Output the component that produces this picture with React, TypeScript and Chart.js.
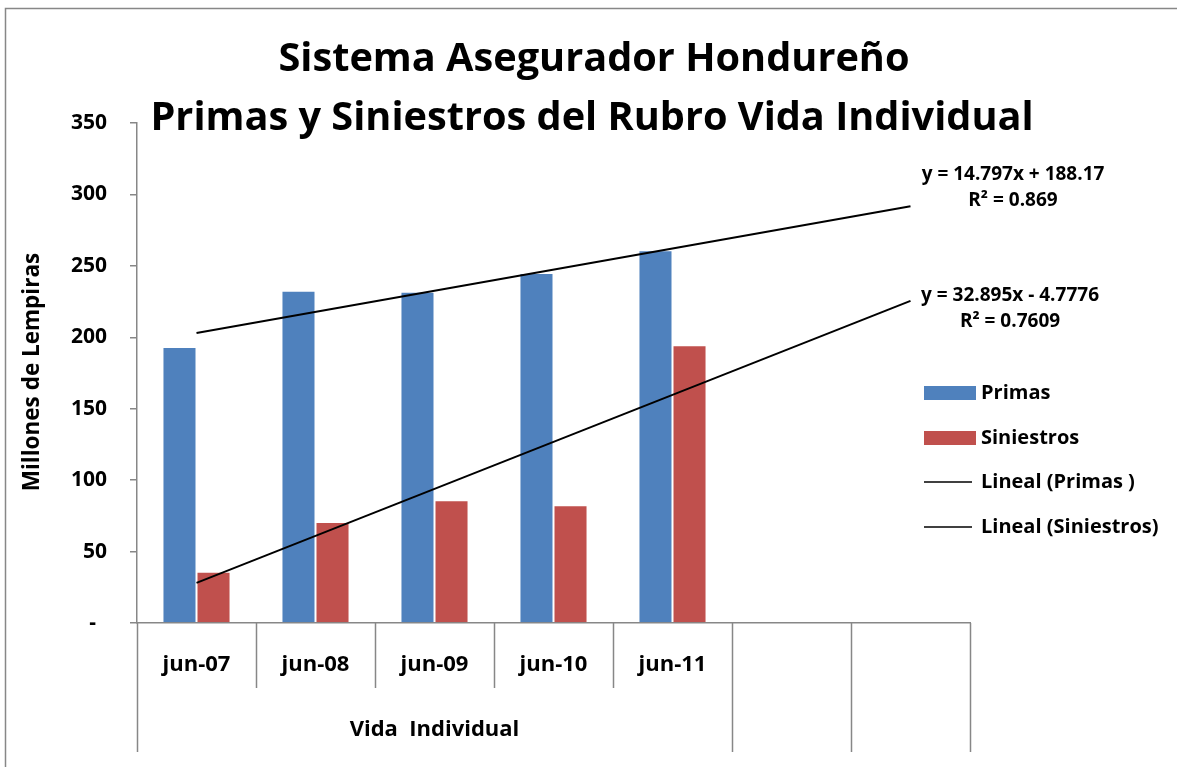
import React, { useEffect, useRef } from 'react';
import { Chart, registerables } from 'chart.js';

Chart.register(...registerables);

const categories = ['jun-07', 'jun-08', 'jun-09', 'jun-10', 'jun-11', '', ''];
const groupLabel = 'Vida  Individual';
const groupSpan = 5;
const primas = [193.2, 232.5, 231.8, 245.0, 261.0];
const siniestros = [35.8, 70.7, 86.0, 82.5, 194.5];
const trendPrimas = [202.97, null, null, null, null, null, 291.75];
const trendSiniestros = [28.12, null, null, null, null, null, 225.49];
const trendPrimasText = ['y = 14.797x + 188.17', 'R² = 0.869'];
const trendSiniestrosText = ['y = 32.895x - 4.7776', 'R² = 0.7609'];
const titleLines = ['Sistema Asegurador Hondureño', 'Primas y Siniestros del Rubro Vida Individual'];
const yTitle = 'Millones de Lempiras';
const legendItems = ['Primas', 'Siniestros', 'Lineal (Primas )', 'Lineal (Siniestros)'];
const yMin = 0;
const yMax = 350;
const yStep = 50;

const FONT = '"Open Sans", Lato, sans-serif';
const BLUE = '#4F81BD';
const RED = '#C0504D';
const GRAY = '#878787';

const overlay = {
  id: 'overlay',
  afterDraw(chart: any) {
    const ctx = chart.ctx as CanvasRenderingContext2D;
    const area = chart.chartArea;
    const x = chart.scales.x;
    ctx.save();
    // outer border
    ctx.strokeStyle = GRAY;
    ctx.lineWidth = 1.5;
    ctx.beginPath();
    ctx.moveTo(5.5, 767);
    ctx.lineTo(5.5, 8.5);
    ctx.lineTo(1177, 8.5);
    ctx.stroke();

    // title
    ctx.fillStyle = '#000';
    ctx.textAlign = 'center';
    ctx.textBaseline = 'middle';
    ctx.font = `bold 39.7px ${FONT}`;
    ctx.fillText(titleLines[0], 594, 60);
    ctx.fillText(titleLines[1], 592, 119);

    // y title
    ctx.save();
    ctx.translate(33, 372);
    ctx.rotate(-Math.PI / 2);
    ctx.font = `bold 22.5px ${FONT}`;
    ctx.fillText(yTitle, 0, 0);
    ctx.restore();

    // category axis multi-level
    const n = categories.length;
    const cw = (area.right - area.left) / n;
    ctx.strokeStyle = GRAY;
    ctx.lineWidth = 1.5;
    for (let i = 0; i <= n; i++) {
      const bx = Math.round(area.left + i * cw) + 0.5;
      const inner = i > 0 && i < groupSpan;
      ctx.beginPath();
      ctx.moveTo(bx, area.bottom);
      ctx.lineTo(bx, inner ? 688 : 752);
      ctx.stroke();
    }
    ctx.font = `bold 22px ${FONT}`;
    categories.forEach((c, i) => {
      if (!c) return;
      ctx.fillText(c, x.getPixelForValue(i), 665);
    });
    ctx.fillText(groupLabel, area.left + (groupSpan * cw) / 2, 730);

    // legend
    const lx = 924;
    const ys = [393, 438, 482, 527];
    ctx.textAlign = 'left';
    ctx.font = `bold 20px ${FONT}`;
    legendItems.forEach((t, i) => {
      if (i < 2) {
        ctx.fillStyle = i === 0 ? BLUE : RED;
        ctx.fillRect(lx, ys[i] - 7, 52, 14);
      } else {
        ctx.strokeStyle = '#000';
        ctx.lineWidth = 1.5;
        ctx.beginPath();
        ctx.moveTo(lx, ys[i]);
        ctx.lineTo(lx + 48, ys[i]);
        ctx.stroke();
      }
      ctx.fillStyle = '#000';
      ctx.fillText(t, 981, ys[i]);
    });

    // trend equations
    ctx.textAlign = 'center';
    ctx.font = `bold 19px ${FONT}`;
    ctx.fillText(trendPrimasText[0], 1013, 175);
    ctx.fillText(trendPrimasText[1], 1013, 201);
    ctx.fillText(trendSiniestrosText[0], 1010, 296);
    ctx.fillText(trendSiniestrosText[1], 1010, 322);
    ctx.restore();
  },
};

export default function App() {
  const ref = useRef<HTMLCanvasElement>(null);
  useEffect(() => {
    if (!ref.current) return;
    const chart = new Chart(ref.current, {
      type: 'bar',
      data: {
        labels: categories,
        datasets: [
          {
            type: 'bar',
            label: 'Primas',
            data: primas,
            backgroundColor: BLUE,
            borderColor: 'rgba(255,255,255,0.45)',
            borderWidth: 1,
            categoryPercentage: 0.572,
            barPercentage: 1,
            order: 2,
          },
          {
            type: 'bar',
            label: 'Siniestros',
            data: siniestros,
            backgroundColor: RED,
            borderColor: 'rgba(255,255,255,0.45)',
            borderWidth: 1,
            categoryPercentage: 0.572,
            barPercentage: 1,
            order: 2,
          },
          {
            type: 'line',
            label: 'Lineal (Primas )',
            data: trendPrimas,
            borderColor: '#000',
            borderWidth: 2,
            pointRadius: 0,
            spanGaps: true,
            fill: false,
            order: 1,
          } as any,
          {
            type: 'line',
            label: 'Lineal (Siniestros)',
            data: trendSiniestros,
            borderColor: '#000',
            borderWidth: 2,
            pointRadius: 0,
            spanGaps: true,
            fill: false,
            order: 1,
          } as any,
        ],
      },
      options: {
        responsive: false,
        animation: false,
        layout: { padding: { left: 0, top: 123, right: 207, bottom: 0 } },
        plugins: {
          legend: { display: false },
          title: { display: false },
          tooltip: { enabled: false },
        },
        scales: {
          x: {
            grid: { display: false },
            border: { display: true, color: GRAY, width: 1.5 },
            ticks: { display: false },
            afterFit(scale: any) {
              scale.height = 144;
            },
          },
          y: {
            min: yMin,
            max: yMax,
            grid: { drawOnChartArea: false, drawTicks: true, tickLength: 7, color: GRAY, lineWidth: 1.5 },
            border: { display: true, color: GRAY, width: 1.5 },
            ticks: {
              stepSize: yStep,
              color: '#000',
              padding: 23,
              font: { family: FONT, weight: 'bold', size: 21 },
              callback: (v: any) => (Number(v) === 0 ? '-  ' : String(v)),
            },
            afterFit(scale: any) {
              scale.width = 137;
            },
          },
        },
      },
      plugins: [overlay],
    });
    return () => chart.destroy();
  }, []);
  return (
    <div style={{ position: 'absolute', left: 0, top: 0, width: 1177, height: 767, background: '#fff' }}>
      <canvas ref={ref} width={1177} height={767} />
    </div>
  );
}
